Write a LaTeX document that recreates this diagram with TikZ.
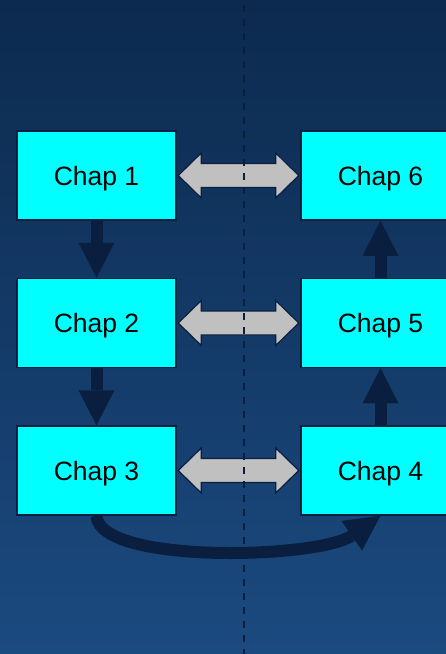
\documentclass[tikz,border=0pt]{standalone}
\usepackage{fontspec}
\setmainfont{Liberation Sans}
\usetikzlibrary{arrows.meta,calc}
\definecolor{bgtop}{HTML}{0C2A4E}
\definecolor{bgbot}{HTML}{1B4A80}
\definecolor{navy}{HTML}{0A1F3F}
\definecolor{boxcyan}{HTML}{00FFFF}
\definecolor{arrgray}{HTML}{C0C0C0}
\begin{document}
\begin{tikzpicture}[x=1pt,y=-1pt,
 chapbox/.style={draw=navy,line width=1.5pt,fill=boxcyan,minimum width=159pt,minimum height=89pt,inner sep=0pt,text depth=0pt,font=\fontsize{26.5pt}{30pt}\selectfont},
 flowarrow/.style={draw=navy,line width=12pt,-{Triangle[length=35pt,width=36pt,line width=0pt]}},
 dblarrow/.style={draw=navy,fill=arrgray,line width=1.2pt,line join=miter},
 divider/.style={draw=navy,line width=1.5pt,dash pattern=on 7pt off 7pt}]
\path[use as bounding box, top color=bgtop, bottom color=bgbot] (0,0) rectangle (446,654);
\begin{scope}
\clip (0,0) rectangle (446,654);
\node[chapbox] (c1) at (96.5,175.5) {Chap 1};
\node[chapbox] (c2) at (96.5,323) {Chap 2};
\node[chapbox] (c3) at (96.5,470.5) {Chap 3};
\node[chapbox] (c6) at (380.5,175.5) {Chap 6};
\node[chapbox] (c5) at (380.5,323) {Chap 5};
\node[chapbox] (c4) at (380.5,470.5) {Chap 4};
\draw[flowarrow] (c1.south) -- (c2.north);
\draw[flowarrow] (c2.south) -- (c3.north);
\draw[flowarrow] (c4.north) -- (c5.south);
\draw[flowarrow] (c5.north) -- (c6.south);
\draw[flowarrow] (c3.south) .. controls ($(c3.south)+(3,49)$) and ($(c4.south)+(-62,43)$) .. (c4.south);
\foreach \l/\r in {c1/c6,c2/c5,c3/c4}{
 \path[dblarrow] let \p1=($(\l.east)+(1.5,0)$), \p2=($(\r.west)+(-1.5,0)$) in
  (\x1,\y1) -- (\x1+23pt,\y1+22.5pt) -- (\x1+23pt,\y1+12pt) -- (\x2-23pt,\y1+12pt)
  -- (\x2-23pt,\y1+22.5pt) -- (\x2,\y1) -- (\x2-23pt,\y1-22.5pt) -- (\x2-23pt,\y1-12pt)
  -- (\x1+23pt,\y1-12pt) -- (\x1+23pt,\y1-22.5pt) -- cycle;
}
\coordinate (dtop) at (244,5);
\coordinate (dbot) at (244,654);
\draw[divider] (dtop) -- (dbot);
\end{scope}
\end{tikzpicture}
\end{document}
